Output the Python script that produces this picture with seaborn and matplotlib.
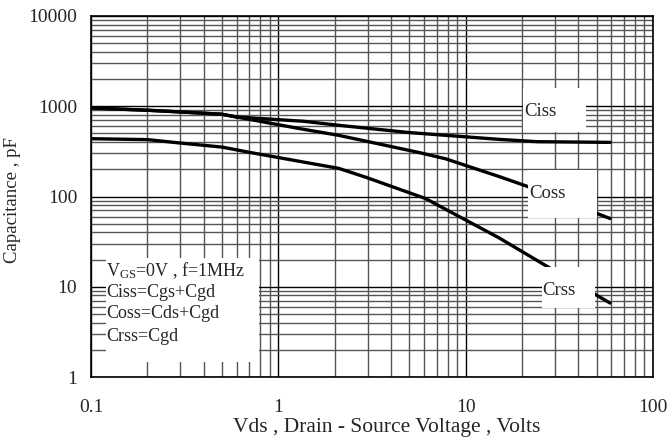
import matplotlib
matplotlib.use("Agg")
import matplotlib.pyplot as plt
import matplotlib.ticker as mticker
from matplotlib.patches import Rectangle
import seaborn as sns
import pandas as pd

# ---- data ----
vds_ciss = [0.1, 0.2, 0.3, 0.5, 0.6, 1.37, 2.1, 5.0, 15, 24, 59]
ciss = [957, 903, 865, 815, 760, 681, 615, 511, 430, 405, 398]

vds_coss = [0.1, 0.2, 0.3, 0.5, 0.6, 1.3, 2.1, 5.6, 7.8, 15, 20.8, 59]
coss = [957, 903, 865, 815, 760, 565, 476, 308, 262, 167, 132, 57]

vds_crss = [0.1, 0.2, 0.3, 0.5, 0.716, 2.1, 2.94, 6.1, 15, 28.6, 59]
crss = [437, 427, 391, 353, 306, 205, 163, 95, 35, 15.8, 6.6]

x_ticks = [0.1, 1, 10, 100]
x_ticklabels = ["0.1", "1", "10", "100"]
y_ticks = [1, 10, 100, 1000, 10000]
y_ticklabels = ["1", "10", "100", "1000", "10000"]

legend_lines = [r"V$_{\mathrm{GS}}$=0V , f=1MHz", "Ciss=Cgs+Cgd", "Coss=Cds+Cgd", "Crss=Cgd"]

sns.set_style("white")
plt.rcParams["font.family"] = ["Liberation Serif", "DejaVu Serif"]
plt.rcParams["mathtext.fontset"] = "custom"
plt.rcParams["mathtext.rm"] = "Liberation Serif"
plt.rcParams["mathtext.it"] = "Liberation Serif:italic"

df = pd.concat([
    pd.DataFrame({"Vds": vds_ciss, "C": ciss, "name": "Ciss"}),
    pd.DataFrame({"Vds": vds_coss, "C": coss, "name": "Coss"}),
    pd.DataFrame({"Vds": vds_crss, "C": crss, "name": "Crss"}),
])

fig = plt.figure(figsize=(6.7, 4.43), dpi=100)
ax = fig.add_axes([91/670, 66/443, 562/670, 361/443])
ax.set_xscale("log")
ax.set_yscale("log")

sns.lineplot(data=df, x="Vds", y="C", units="name", estimator=None, sort=False,
             color="black", linewidth=2.4, ax=ax, zorder=3)

ax.set_xlim(0.1, 100)
ax.set_ylim(1, 10000)

ax.xaxis.set_major_locator(mticker.FixedLocator(x_ticks))
ax.xaxis.set_major_formatter(mticker.FixedFormatter(x_ticklabels))
ax.yaxis.set_major_locator(mticker.FixedLocator(y_ticks))
ax.yaxis.set_major_formatter(mticker.FixedFormatter(y_ticklabels))
ax.xaxis.set_minor_locator(mticker.LogLocator(base=10, subs=range(2, 10), numticks=20))
ax.yaxis.set_minor_locator(mticker.LogLocator(base=10, subs=range(2, 10), numticks=20))
ax.xaxis.set_minor_formatter(mticker.NullFormatter())
ax.yaxis.set_minor_formatter(mticker.NullFormatter())

ax.grid(which="major", color="black", linewidth=1.0, zorder=1)
ax.grid(which="minor", color="#555555", linewidth=1.0, zorder=1)
ax.set_axisbelow(True)
ax.tick_params(which="both", length=0)
ax.tick_params(axis="x", pad=16, labelsize=14)
ax.tick_params(axis="y", pad=10, labelsize=14)
for s in ax.spines.values():
    s.set_color("black")
    s.set_linewidth(1.2)

ax.set_xlabel("Vds , Drain - Source Voltage , Volts", fontsize=15.5, labelpad=1)
ax.xaxis.label.set_x(0.527)
ax.set_ylabel("Capacitance , pF", fontsize=13.5, labelpad=5)
ax.yaxis.label.set_y(0.49)

# white label boxes
def wbox(x0, y0, x1, y1):
    ax.add_patch(Rectangle((x0, y0), x1 - x0, y1 - y0, transform=ax.transAxes,
                           facecolor="white", edgecolor="none", zorder=4))

wbox(0.769, 0.679, 0.881, 0.801)
ax.text(0.771, 0.736, "Ciss", transform=ax.transAxes, fontsize=13.5, va="center", ha="left", zorder=5)
wbox(0.778, 0.440, 0.900, 0.573)
ax.text(0.780, 0.509, "Coss", transform=ax.transAxes, fontsize=13.5, va="center", ha="left", zorder=5)
wbox(0.802, 0.191, 0.897, 0.305)
ax.text(0.803, 0.240, "Crss", transform=ax.transAxes, fontsize=13.5, va="center", ha="left", zorder=5)

wbox(0.027, 0.042, 0.299, 0.330)
for yy, txt in zip([0.296, 0.235, 0.177, 0.111], legend_lines):
    ax.text(0.027, yy, txt, transform=ax.transAxes, fontsize=13, va="center", ha="left", zorder=5)

fig.savefig("out.png", dpi=100)
